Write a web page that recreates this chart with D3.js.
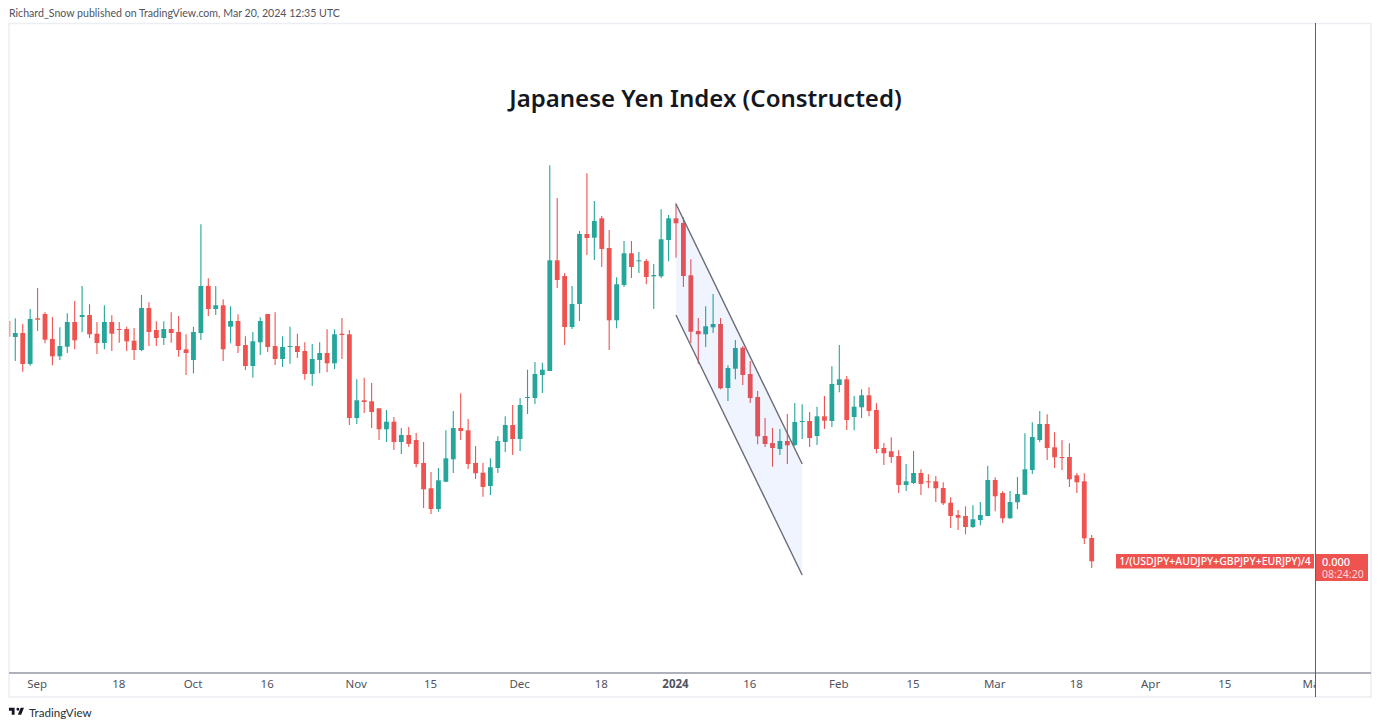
<!DOCTYPE html>
<html>
<head>
<meta charset="utf-8">
<title>Japanese Yen Index (Constructed)</title>
<script src="https://cdn.jsdelivr.net/npm/d3@7"></script>
<style>
  html, body { margin: 0; padding: 0; background: #fff; }
  svg { display: block; }
  text { font-family: "Noto Sans", sans-serif; }
</style>
</head>
<body>
<svg id="chart" width="1380" height="728"></svg>
<script>
// one entry per daily bar, the first bar is cut off by the left edge of the pane
var opens = [379, 363, 367, 336, 381.7, 386, 361, 343.7, 353.3, 378, 383, 385, 366.3, 357, 378, 371, 371, 359.3, 350, 392, 370, 362, 371, 368, 350.7, 340, 367, 414, 391, 394.7, 373.3, 379, 355, 334, 357.7, 386, 354, 341, 353, 354, 349, 326, 340, 347, 336.7,
  366.3, 365.7, 282, 299.7, 298.7, 291.7, 270.7, 278.3, 258, 265, 260, 237, 211.7, 191, 218.3, 240.7, 272, 269.7, 237, 227.3, 214, 232, 258, 275, 261, 302, 302, 325,
  329, 439.7, 424, 373, 396, 466, 462.3, 481.7, 452, 379.7, 415, 446.7, 438.7, 439, 423.7, 423.7, 460, 481.7, 477,
  424.7, 369, 365.7, 372.7, 376, 312, 331.3, 352.3, 326, 303, 264, 257, 251, 259,
  255, 278.3, 279, 264, 283.7, 279, 315, 320.7, 283, 292.7, 304.7, 290, 252, 248.7, 244, 215, 217, 227, 218.7, 218.7, 212,
  197.3, 185, 184, 173, 180, 184, 220, 207, 181.7, 197.7, 205.3, 230, 260, 276, 252.7, 243, 243, 224.7, 218.7, 162];
var highs = [379, 381.7, 376, 391, 412, 387.7, 383, 372.7, 386.7, 399, 414, 395.7, 378, 394.7, 384.7, 378, 373.3, 372, 405, 397.7, 378.7, 378.7, 387.7, 384, 365.7, 373.3, 475.7, 421.7, 414, 400.7, 393.7, 385.7, 363.7, 368, 382.7, 386, 387.7, 363.7, 373.3, 366.3, 357.7, 356, 357.7, 370.7, 370.7,
  382, 370, 320.7, 322.3, 317, 291.7, 290, 283, 272, 273, 267, 258, 228, 232, 269.7, 289, 306.7, 281, 254, 237, 241.7, 263.7, 283.7, 295, 302, 330.3, 338, 337.3,
  534.7, 502, 427, 414, 469, 526.7, 499, 484, 470, 422.7, 459, 459, 448, 441, 436, 490.7, 485, 496.7, 482.7,
  440.7, 382, 393.7, 406, 382, 334.7, 360, 354, 339, 309, 282, 272, 271, 286,
  297, 295.7, 288, 293.3, 304, 333.7, 355, 324, 304, 310.7, 312.7, 296.7, 257, 262.7, 250, 236, 249, 230.7, 225.7, 224, 217.7,
  202.7, 190, 193.7, 194.7, 198, 234.3, 222.7, 208.7, 209, 223, 266.7, 277.7, 289, 285.7, 267.7, 260, 256.7, 227, 226.7, 165];
var lows = [363.3, 339, 328.3, 334.3, 369, 356.7, 334.7, 340, 347, 350.7, 368, 362, 346, 350.7, 349, 357.3, 349, 340, 349, 354, 354, 355, 357.3, 343.3, 325, 326.7, 360, 384, 385, 339, 356.7, 347, 330, 322.3, 345, 348, 335, 333, 336.3, 342, 320.3, 314, 326.7, 327.7, 331,
  341, 275, 276, 287, 272, 260, 258, 250, 246, 253, 232.7, 192, 186, 188.3, 217.7, 227, 260, 231, 221, 203.3, 205, 227, 248, 245, 249, 286, 296, 307,
  329, 412, 355, 371, 379, 445, 440, 433, 350, 371.7, 413, 422, 427, 415.7, 391, 422, 438.7, 442.3, 413,
  357, 336, 353, 367, 310.7, 299, 320.7, 315, 297, 255.7, 253, 233.3, 245, 236,
  254, 261, 253, 255, 271, 273, 307.7, 270, 269.7, 282, 283.7, 246.7, 235, 237, 207, 209, 216, 205, 211.7, 198, 195,
  172, 170, 165.7, 172, 174.7, 184, 188.7, 177, 181.3, 191, 205, 226, 258, 240, 232, 230, 213, 207, 156, 132];
var closes = [363.3, 367, 336, 381, 380.3, 360.3, 343.7, 354, 378, 359.7, 385, 365.7, 357, 378, 366.3, 370.3, 358.7, 350, 392, 368, 362, 371, 367, 350, 347, 368, 414, 391, 394.7, 350.7, 379, 354, 334, 358.7, 379, 353, 341, 353, 354, 348, 326, 341, 347, 336.7, 365.7,
  365, 282, 299.7, 298, 288, 270.7, 278.3, 258, 265, 256, 236, 210.7, 191, 219.7, 241.7, 272, 269, 236, 226.7, 213, 232.7, 259, 275, 261, 295, 303, 326, 330.3,
  439.7, 420, 373, 396, 466, 462, 479, 451, 379.7, 415.7, 446.7, 433, 439.7, 423, 425, 460.7, 481.7, 476.7, 424,
  368.3, 365.7, 373.7, 376, 311.7, 332, 352, 325, 302, 263.7, 256, 252, 259, 254.7,
  278, 279, 262, 283.7, 279.3, 316, 320.7, 280, 293.3, 304.7, 289, 251, 246.7, 243, 215, 218.7, 227, 216, 217.7, 211.7, 196.7,
  184, 182.3, 173, 180.7, 185, 220, 203.7, 181.7, 198, 206, 230.7, 263, 276, 252, 242.7, 242, 220.7, 217.7, 161.7, 138.7];

// time axis, in bar numbers counted from the first full bar
var tickBars = [3, 14, 24, 34, 46, 56, 68, 79, 89, 99, 111, 121, 132, 143, 153, 163, 175];
var tickLabels = ['Sep', '18', 'Oct', '16', 'Nov', '15', 'Dec', '18', '2024', '16', 'Feb', '15', 'Mar', '18', 'Apr', '15', 'May'];

// parallel channel drawing: bar numbers and the upper and lower rail
var channelBars = [89, 106];
var channelUpper = [496, 236];
var channelLower = [385, 125];

var seriesName = '1/(USDJPY+AUDJPY+GBPJPY+EURJPY)/4';
var lastPrice = '0.000';
var countdown = '08:24:20';

var upColor = '#26a69a';
var downColor = '#ef5350';

var svg = d3.select('#chart');
var x = d3.scaleLinear().domain([0, 145]).range([15.3, 1091.7]);
var y = d3.scaleLinear().domain([0, 700]).range([700, 0]);

svg.append('rect').attr('width', 1380).attr('height', 728).attr('fill', '#fff');

svg.append('clipPath').attr('id', 'pane').append('rect')
  .attr('x', 9.5).attr('y', 24).attr('width', 1305.5).attr('height', 648);
svg.append('clipPath').attr('id', 'timeScale').append('rect')
  .attr('x', 10).attr('y', 674).attr('width', 1305).attr('height', 23);

// frame of the chart
svg.append('rect')
  .attr('x', 9).attr('y', 23.5).attr('width', 1362).attr('height', 673.5)
  .attr('fill', 'none').attr('stroke', '#eceef3').attr('stroke-width', 1.5);

var bars = opens.map(function(open, i) {
  return { bar: i - 1, open: open, high: highs[i], low: lows[i], close: closes[i] };
});

var pane = svg.append('g').attr('clip-path', 'url(#pane)');

var candles = pane.selectAll('g.candle').data(bars).enter().append('g').attr('class', 'candle');

candles.append('line')
  .attr('x1', function(d) { return x(d.bar); })
  .attr('x2', function(d) { return x(d.bar); })
  .attr('y1', function(d) { return y(d.high); })
  .attr('y2', function(d) { return y(d.low); })
  .attr('stroke', function(d) { return d.close >= d.open ? upColor : downColor; })
  .attr('stroke-width', 1.1);

candles.append('rect')
  .attr('x', function(d) { return x(d.bar) - 2.4; })
  .attr('width', 4.8)
  .attr('y', function(d) { return y(Math.max(d.open, d.close)); })
  .attr('height', function(d) { return Math.max(1, Math.abs(y(d.open) - y(d.close))); })
  .attr('fill', function(d) { return d.close >= d.open ? upColor : downColor; });

// channel sits on top of the candles, as drawings do
var channelArea = d3.area()
  .x(function(d) { return x(d.bar); })
  .y0(function(d) { return y(d.lower); })
  .y1(function(d) { return y(d.upper); });

var channelPoints = channelBars.map(function(bar, i) {
  return { bar: bar, upper: channelUpper[i], lower: channelLower[i] };
});

pane.append('path')
  .attr('d', channelArea(channelPoints))
  .attr('fill', 'rgb(33, 88, 243)').attr('fill-opacity', 0.065);

[channelUpper, channelLower].forEach(function(rail) {
  var line = d3.line()
    .x(function(d, i) { return x(channelBars[i]); })
    .y(function(d) { return y(d); });
  pane.append('path')
    .attr('d', line(rail))
    .attr('fill', 'none').attr('stroke', '#6a6d78').attr('stroke-width', 1.4);
});

// title
svg.append('text')
  .attr('x', 705.5).attr('y', 106.5)
  .attr('text-anchor', 'middle')
  .attr('font-size', 24).attr('font-weight', 600)
  .attr('fill', '#131722')
  .text('Japanese Yen Index (Constructed)');

// time scale
svg.append('line')
  .attr('x1', 9).attr('x2', 1371).attr('y1', 673).attr('y2', 673)
  .attr('stroke', '#aeb1ba').attr('stroke-width', 1.8);

var timeAxis = d3.axisBottom(x)
  .tickValues(tickBars)
  .tickSize(0)
  .tickPadding(0)
  .tickFormat(function(d, i) { return tickLabels[i]; });

var timeGroup = svg.append('g')
  .attr('clip-path', 'url(#timeScale)')
  .append('g')
  .attr('transform', 'translate(-1,680)')
  .call(timeAxis);

timeGroup.select('.domain').remove();
timeGroup.selectAll('text')
  .attr('font-family', 'Lato, sans-serif')
  .attr('font-size', 11.5)
  .attr('fill', '#50535e')
  .attr('font-weight', function(d, i) { return tickLabels[i] === '2024' ? 700 : 400; });

// vertical divider of the hidden price scale
svg.append('line')
  .attr('x1', 1315.5).attr('x2', 1315.5).attr('y1', 23).attr('y2', 697)
  .attr('stroke', '#5d606b').attr('stroke-width', 1);

// last price labels
svg.append('rect')
  .attr('x', 1116).attr('y', 554).attr('width', 198).attr('height', 14.5)
  .attr('fill', downColor);
svg.append('text')
  .attr('x', 1215).attr('y', 565)
  .attr('text-anchor', 'middle')
  .attr('font-size', 10.5).attr('font-weight', 500)
  .attr('fill', '#fff')
  .text(seriesName);

svg.append('rect')
  .attr('x', 1316).attr('y', 554).attr('width', 52).attr('height', 27)
  .attr('fill', downColor);
svg.append('text')
  .attr('x', 1322).attr('y', 565.5)
  .attr('font-size', 11).attr('font-weight', 500)
  .attr('fill', '#fff')
  .text(lastPrice);
svg.append('text')
  .attr('x', 1322).attr('y', 577.5)
  .attr('font-size', 10.5)
  .attr('fill', '#fbd9d8')
  .text(countdown);

// header and footer
svg.append('text')
  .attr('x', 9).attr('y', 17)
  .style('font-family', 'Lato, sans-serif')
  .attr('font-size', 10.6)
  .attr('fill', '#50535e')
  .text('Richard_Snow published on TradingView.com, Mar 20, 2024 12:35 UTC');

svg.append('path')
  .attr('transform', 'translate(8,705) scale(0.47)')
  .attr('d', 'M14 6H2v6h6v9h6V6zm14 15h-7l6-15h7l-6 15zm-7-9a3 3 0 1 0 0-6 3 3 0 0 0 0 6z')
  .attr('fill', '#131722');
svg.append('text')
  .attr('x', 29).attr('y', 717)
  .style('font-family', 'Lato, sans-serif')
  .attr('font-size', 11.6)
  .attr('fill', '#2a2e39')
  .text('TradingView');
</script>
</body>
</html>
